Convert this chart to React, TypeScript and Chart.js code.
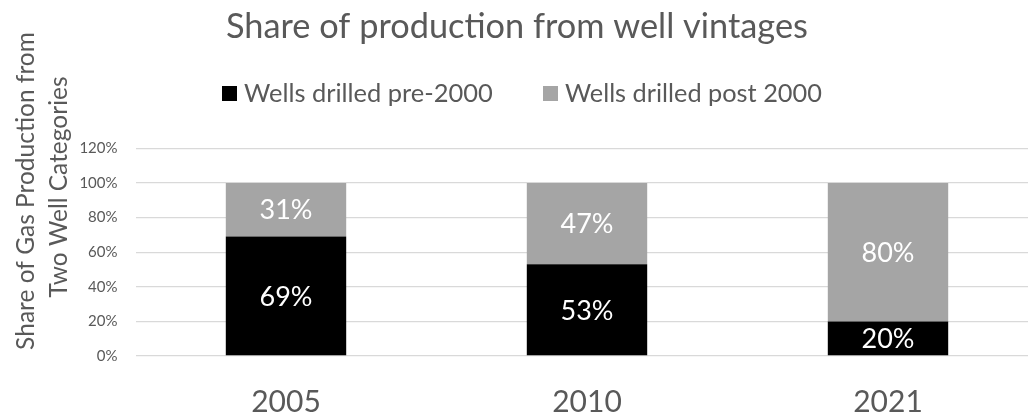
import React, { useEffect, useRef } from "react";
import { Chart, registerables } from "chart.js";

Chart.register(...registerables);

const years = ["2005", "2010", "2021"];
const pre2000 = [0.69, 0.53, 0.2];
const post2000 = [0.31, 0.47, 0.8];
const yTicks = [0, 0.2, 0.4, 0.6, 0.8, 1.0, 1.2];
const seriesNames = ["Wells drilled pre-2000", "Wells drilled post 2000"];
const titleText = "Share of production from well vintages";
const yTitleLines = ["Share of Gas Production from", "Two Well Categories"];

const FONT = "Lato";
const TEXT = "#595959";
const COLORS = ["#000000", "#A5A5A5"];

function fitSize(ctx: CanvasRenderingContext2D, text: string, width: number) {
  ctx.font = `100px ${FONT}`;
  const w = ctx.measureText(text).width;
  return (100 * width) / w;
}

const decorPlugin = {
  id: "decor",
  afterDraw(chart: any) {
    const ctx: CanvasRenderingContext2D = chart.ctx;
    ctx.save();
    ctx.fillStyle = TEXT;
    ctx.textAlign = "left";
    ctx.textBaseline = "alphabetic";
    // title
    let s = fitSize(ctx, titleText, 582);
    ctx.font = `${s}px ${FONT}`;
    ctx.fillText(titleText, 226, 37.5);
    // legend
    const legendItems = [
      { box: 222, text: 244, width: 249 },
      { box: 543, text: 565, width: 257 },
    ];
    legendItems.forEach((it, i) => {
      ctx.fillStyle = COLORS[i];
      ctx.fillRect(it.box, 86, 15, 15);
      ctx.fillStyle = TEXT;
      const fs = fitSize(ctx, seriesNames[i], it.width);
      ctx.font = `${fs}px ${FONT}`;
      ctx.fillText(seriesNames[i], it.text, 101.5);
    });
    // y-axis title
    const ys = fitSize(ctx, yTitleLines[0], 318);
    ctx.font = `${ys}px ${FONT}`;
    ctx.textAlign = "center";
    const lines = [
      { x: 34, y: 191 },
      { x: 67, y: 187 },
    ];
    lines.forEach((l, i) => {
      ctx.save();
      ctx.translate(l.x, l.y);
      ctx.rotate(-Math.PI / 2);
      ctx.fillText(yTitleLines[i], 0, 0);
      ctx.restore();
    });
    ctx.restore();
  },
  afterDatasetsDraw(chart: any) {
    const ctx: CanvasRenderingContext2D = chart.ctx;
    ctx.save();
    ctx.fillStyle = "#FFFFFF";
    ctx.font = `27px ${FONT}`;
    ctx.textAlign = "center";
    ctx.textBaseline = "middle";
    chart.data.datasets.forEach((ds: any, di: number) => {
      const meta = chart.getDatasetMeta(di);
      meta.data.forEach((el: any, i: number) => {
        const v = ds.data[i];
        const mid = (el.y + el.base) / 2;
        ctx.fillText(`${Math.round(v * 100)}%`, el.x, mid + 1);
      });
    });
    ctx.restore();
  },
};

export default function App() {
  const ref = useRef<HTMLCanvasElement>(null);
  useEffect(() => {
    document.body.style.margin = "0";
    const chart = new Chart(ref.current!, {
      type: "bar",
      data: {
        labels: years,
        datasets: [
          { label: seriesNames[0], data: pre2000, backgroundColor: COLORS[0], barPercentage: 0.4, categoryPercentage: 1 },
          { label: seriesNames[1], data: post2000, backgroundColor: COLORS[1], barPercentage: 0.4, categoryPercentage: 1 },
        ],
      },
      options: {
        responsive: false,
        animation: false,
        layout: { padding: { top: 148.3, right: 1.5, left: 0, bottom: 0 } },
        plugins: {
          legend: { display: false },
          title: { display: false },
          tooltip: { enabled: false },
        },
        scales: {
          x: {
            stacked: true,
            grid: { display: false, drawTicks: false },
            border: { display: false },
            ticks: { color: TEXT, font: { family: FONT, size: 30 }, padding: 28 },
            afterFit: (s: any) => {
              s.height = 64;
            },
          },
          y: {
            stacked: true,
            min: 0,
            max: 1.2,
            afterBuildTicks: (s: any) => {
              s.ticks = yTicks.map((v) => ({ value: v }));
            },
            grid: { color: "#D9D9D9", lineWidth: 1.3, drawTicks: false },
            border: { display: false },
            ticks: {
              color: TEXT,
              font: { family: FONT, size: 15 },
              padding: 18,
              callback: (v: any) => `${Math.round(Number(v) * 100)}%`,
            },
            afterFit: (s: any) => {
              s.width = 135.5;
            },
          },
        },
      },
      plugins: [decorPlugin],
    });
    return () => chart.destroy();
  }, []);
  return (
    <div style={{ width: 1028, height: 420, overflow: "hidden", background: "#fff" }}>
      <canvas ref={ref} width={1040} height={420} style={{ display: "block" }} />
    </div>
  );
}
